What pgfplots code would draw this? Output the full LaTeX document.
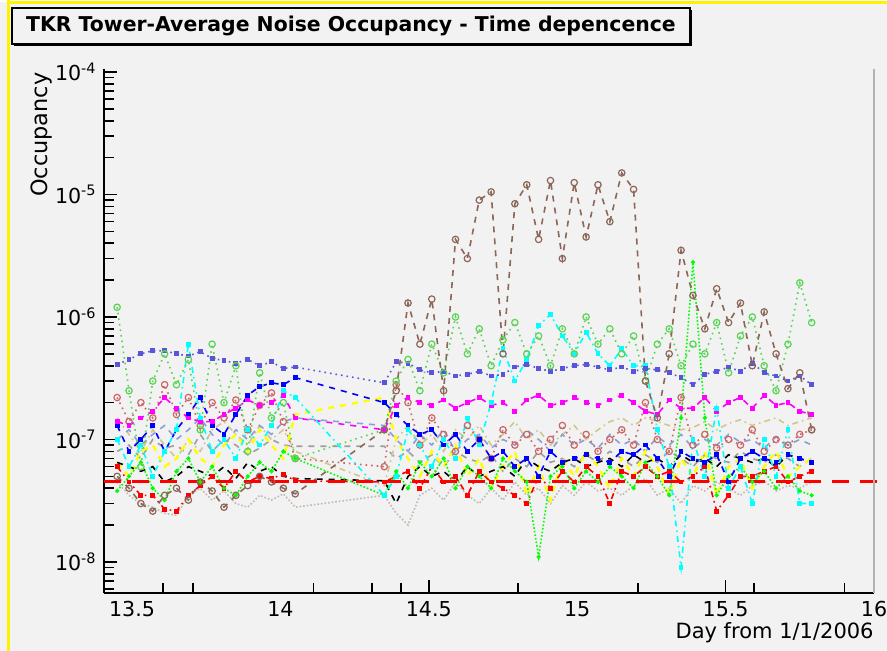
\documentclass[border=0pt]{standalone}
\usepackage{fontspec}
\setmainfont{DejaVu Sans}
\usepackage{pgfplots}
\pgfplotsset{compat=1.18}
\usepackage{pgfplotstable}
\definecolor{bg}{HTML}{F2F2F2}
\definecolor{cA}{rgb}{0,0,0}
\definecolor{cB}{rgb}{1,0,0}
\definecolor{cC}{rgb}{0,1,0}
\definecolor{cD}{rgb}{0,0,1}
\definecolor{cE}{rgb}{1,1,0}
\definecolor{cF}{rgb}{1,0,1}
\definecolor{cG}{rgb}{0,1,1}
\definecolor{cH}{rgb}{0.35,0.83,0.33}
\definecolor{cI}{rgb}{0.35,0.33,0.85}
\definecolor{cJ}{rgb}{0.55,0.40,0.34}
\definecolor{cK}{rgb}{0.82,0.78,0.55}
\definecolor{cL}{rgb}{0.55,0.62,0.85}
\definecolor{cM}{rgb}{0.80,0.40,0.40}
\definecolor{cN}{rgb}{0.76,0.73,0.69}
\definecolor{cO}{rgb}{0.62,0.62,0.62}
\pgfplotstableread{
x A B C D E F G H I J K L M N O
13.45 6.5e-8 6e-8 3.8e-8 1.3e-7 6.5e-8 1.4e-7 1.0e-7 1.2e-6 4.1e-7 5e-8 1.5e-7 1.0e-7 2.2e-7 4.5e-8 8e-8
13.49 6e-8 4.5e-8 5e-8 8e-8 5e-8 1.3e-7 6e-8 2.5e-7 4.5e-7 4e-8 1.1e-7 1.2e-7 1.4e-7 3.5e-8 9e-8
13.53 5.5e-8 3.5e-8 6.5e-8 1.0e-7 8e-8 1.5e-7 9e-8 6e-8 5e-7 3e-8 8e-8 9e-8 2.0e-7 3e-8 7e-8
13.57 6e-8 3.5e-8 4e-8 1.3e-7 9e-8 1.7e-7 5e-8 3e-7 5.3e-7 2.6e-8 1.2e-7 1.1e-7 1.5e-7 2.8e-8 1.0e-7
13.61 4.5e-8 2.7e-8 3.2e-8 8e-8 6e-8 2.2e-7 8e-8 5e-7 5.3e-7 3.5e-8 9e-8 1.3e-7 2.8e-7 2.5e-8 8.5e-8
13.65 5e-8 2.6e-8 5.5e-8 1.2e-7 7e-8 1.8e-7 1.2e-7 2.8e-7 5e-7 4e-8 7e-8 1.0e-7 1.6e-7 2.4e-8 9e-8
13.69 6e-8 3.5e-8 7e-8 1.6e-7 1e-7 1.5e-7 6e-7 4.5e-7 4.8e-7 3.2e-8 1.0e-7 1.2e-7 2.2e-7 3.5e-8 7.5e-8
13.73 5.5e-8 4.2e-8 4.5e-8 2.2e-7 7e-8 1.4e-7 1.5e-7 1.2e-7 5.2e-7 4.5e-8 8e-8 1.5e-7 1.3e-7 4e-8 1.1e-7
13.77 5e-8 5e-8 6e-8 1.3e-7 6e-8 1.4e-7 8e-8 6e-7 4.6e-7 3.8e-8 1.2e-7 1.1e-7 2.0e-7 3.2e-8 8e-8
13.81 6e-8 4e-8 4e-8 1.1e-7 9e-8 1.6e-7 1.0e-7 2e-7 4.4e-7 2.8e-8 1.4e-7 9e-8 1.5e-7 3.8e-8 1.0e-7
13.85 4.8e-8 5.5e-8 3.5e-8 1.6e-7 1.1e-7 1.8e-7 7e-8 4e-7 4.2e-7 3.5e-8 1.1e-7 1.2e-7 2.1e-7 3e-8 9e-8
13.89 6.5e-8 4.5e-8 5e-8 2.3e-7 8e-8 2.1e-7 1.2e-7 8e-8 4.5e-7 4.2e-8 9e-8 1.0e-7 1.2e-7 2.8e-8 7.5e-8
13.93 5.5e-8 5e-8 6.5e-8 2.7e-7 1.2e-7 1.9e-7 9e-8 3.5e-7 4.0e-7 5e-8 1.3e-7 1.3e-7 1.9e-7 3.5e-8 8.5e-8
13.97 6e-8 4.8e-8 5.5e-8 2.9e-7 9e-8 2.0e-7 1.3e-7 1.5e-7 4.3e-7 4.5e-8 1.0e-7 1.1e-7 2.4e-7 3.2e-8 1.0e-7
14.01 5e-8 5.2e-8 8e-8 2.8e-7 7e-8 2.3e-7 2.5e-7 2e-7 3.8e-7 4e-8 1.2e-7 1.4e-7 1.4e-7 3.6e-8 9e-8
14.05 4.8e-8 4.6e-8 7e-8 3.2e-7 1.6e-7 1.5e-7 2.2e-7 7e-8 3.9e-7 3.6e-8 8e-8 1.5e-7 7e-8 2.8e-8 8.8e-8
14.35 4.6e-8 4.5e-8 3.5e-8 2.0e-7 2.2e-7 1.2e-7 3.5e-8 1.2e-7 2.9e-7 1.2e-7 4.2e-8 1.3e-7 6e-8 3.5e-8 8.8e-8
14.39 3e-8 5e-8 5.5e-8 1.6e-7 1e-7 1.9e-7 5e-8 3e-7 4.3e-7 2.5e-7 1e-7 1e-7 2.8e-7 2.5e-8 7e-8
14.43 5e-8 5.5e-8 4e-8 1.3e-7 7e-8 2.2e-7 1.2e-7 4.5e-7 4.2e-7 1.3e-6 1.3e-7 8e-8 2.0e-7 2.0e-8 8e-8
14.47 6e-8 4e-8 6.5e-8 1.1e-7 5e-8 2.0e-7 9e-8 2.5e-7 3.7e-7 6e-7 9e-8 1.1e-7 9e-8 3.5e-8 6.5e-8
14.51 5e-8 6e-8 5e-8 1.2e-7 8e-8 1.9e-7 6e-8 6e-7 3.5e-7 1.4e-6 1.1e-7 9e-8 1.5e-7 4e-8 7.5e-8
14.55 5.5e-8 4.5e-8 7e-8 9e-8 6e-8 2.1e-7 1e-7 3.5e-7 3.6e-7 2.5e-7 8e-8 1.2e-7 1.1e-7 3.2e-8 6e-8
14.59 4.5e-8 5e-8 4e-8 1.1e-7 9e-8 1.8e-7 7e-8 1e-6 3.3e-7 4.3e-6 1.2e-7 8e-8 8e-8 4.5e-8 8e-8
14.63 6e-8 3.5e-8 6e-8 8e-8 5e-8 2.0e-7 1.5e-7 5e-7 3.4e-7 3.0e-6 1.0e-7 1.0e-7 1.3e-7 3.5e-8 7e-8
14.67 5e-8 5.5e-8 5e-8 1e-7 7e-8 2.2e-7 9e-8 8e-7 3.6e-7 9e-6 1.3e-7 1.1e-7 1.0e-7 3e-8 6.5e-8
14.71 5.5e-8 4.5e-8 4e-8 7e-8 4e-8 1.9e-7 2e-7 4e-7 3.3e-7 1.05e-5 9e-8 8.5e-8 7e-8 4e-8 7.5e-8
14.75 6e-8 4e-8 7e-8 8e-8 6e-8 2.0e-7 5.5e-7 6.5e-7 3.4e-7 5e-7 1.1e-7 1.0e-7 1.2e-7 3.2e-8 5.5e-8
14.79 5e-8 3.5e-8 5.5e-8 6e-8 8e-8 1.7e-7 3e-7 9e-7 3.9e-7 8.4e-6 1.4e-7 9e-8 9e-8 4.5e-8 7e-8
14.83 7e-8 3e-8 4.5e-8 7e-8 3.5e-8 2.1e-7 4.5e-7 5e-7 4.1e-7 1.2e-5 1.0e-7 1.2e-7 1.1e-7 3.5e-8 6e-8
14.87 6e-8 5e-8 1.1e-8 5e-8 6e-8 2.3e-7 8.5e-7 7e-7 3.8e-7 4.3e-6 1.2e-7 1.0e-7 8e-8 4e-8 8e-8
14.91 5.5e-8 4e-8 5e-8 8e-8 3.2e-8 1.9e-7 1.05e-6 4e-7 3.6e-7 1.3e-5 9e-8 8e-8 1.0e-7 3e-8 6.5e-8
14.95 6.5e-8 5.5e-8 6e-8 6.5e-8 7e-8 2.0e-7 7e-7 8e-7 3.8e-7 3e-6 1.1e-7 1.1e-7 1.3e-7 4.2e-8 7e-8
14.99 7e-8 4.5e-8 4e-8 7e-8 5e-8 2.2e-7 5e-7 5e-7 4.0e-7 1.25e-5 1.3e-7 9e-8 9e-8 3.5e-8 6e-8
15.03 6e-8 6e-8 5.5e-8 7.5e-8 8e-8 2.0e-7 7.5e-7 1e-6 4.1e-7 4.5e-6 1.0e-7 1.0e-7 1.1e-7 4.5e-8 7.5e-8
15.07 6.5e-8 5e-8 4.5e-8 7e-8 6e-8 1.9e-7 5e-7 6e-7 3.9e-7 1.2e-5 1.2e-7 8.5e-8 8e-8 3.8e-8 6.5e-8
15.11 7e-8 3e-8 6e-8 6.5e-8 4e-8 2.1e-7 4e-7 8e-7 3.7e-7 6e-6 1.4e-7 1.1e-7 1.0e-7 4e-8 8e-8
15.15 6e-8 5.5e-8 5e-8 8e-8 7e-8 2.3e-7 5.5e-7 5e-7 3.9e-7 1.5e-5 1.5e-7 9e-8 1.2e-7 3.5e-8 7e-8
15.19 7.5e-8 5e-8 4e-8 7.5e-8 5e-8 2.0e-7 4e-7 7e-7 3.6e-7 1.1e-5 1.3e-7 1.0e-7 9e-8 4.2e-8 6e-8
15.23 6.5e-8 6e-8 6.5e-8 9e-8 8e-8 1.7e-7 4e-7 3e-7 3.8e-7 3e-7 1.5e-7 8e-8 2.0e-7 4.8e-8 7.5e-8
15.27 7e-8 5e-8 5e-8 7e-8 6e-8 1.6e-7 1.2e-7 6e-7 3.7e-7 1.5e-7 1.4e-7 1.05e-7 1.0e-7 3.5e-8 6.5e-8
15.31 6e-8 5.5e-8 3.5e-8 5e-8 3.5e-8 2.1e-7 6e-8 8e-7 3.5e-7 5e-7 1.3e-7 9e-8 8e-8 4e-8 8e-8
15.35 7.5e-8 4.5e-8 1.5e-7 8e-8 7e-8 1.8e-7 9e-9 4e-7 3.2e-7 3.5e-6 1.2e-7 1.1e-7 2.2e-7 3e-8 7e-8
15.39 6.5e-8 5e-8 2.8e-6 7e-8 5e-8 1.8e-7 1e-7 6e-7 2.8e-7 1.5e-6 1.25e-7 8.5e-8 9e-8 4.2e-8 6e-8
15.43 7e-8 6e-8 1.5e-7 6.5e-8 8e-8 2.2e-7 5e-8 5e-7 3.4e-7 8e-7 1.4e-7 1.0e-7 1.1e-7 3.8e-8 7.5e-8
15.47 6e-8 2.6e-8 3.5e-8 7.5e-8 3.5e-8 1.7e-7 1.8e-7 9e-7 3.6e-7 1.7e-6 1.2e-7 9e-8 8.5e-8 4.5e-8 7e-8
15.51 7.5e-8 3.5e-8 5e-8 4.5e-8 6e-8 2.0e-7 4e-8 3.5e-7 3.9e-7 9e-7 1.35e-7 1.1e-7 1.0e-7 4e-8 6.5e-8
15.55 7e-8 5e-8 6e-8 7e-8 7e-8 2.2e-7 6e-8 7e-7 3.6e-7 1.3e-6 1.45e-7 9.5e-8 9e-8 3.5e-8 8e-8
15.59 6.5e-8 5e-8 4.5e-8 8e-8 4e-8 1.8e-7 3e-8 1e-6 4.2e-7 4e-7 1.3e-7 1.0e-7 1.2e-7 4.2e-8 7e-8
15.63 7e-8 5.5e-8 5.5e-8 7e-8 6e-8 2.3e-7 1e-7 4e-7 3.5e-7 1.1e-6 1.4e-7 8.5e-8 8e-8 4.6e-8 6.5e-8
15.67 6e-8 6e-8 4e-8 6.5e-8 8e-8 1.9e-7 5e-8 2.5e-7 3.3e-7 5e-7 1.5e-7 1.05e-7 1.0e-7 3.8e-8 7.5e-8
15.71 7.5e-8 4.5e-8 5e-8 7.5e-8 5e-8 2.0e-7 1.2e-7 6e-7 3.0e-7 2.6e-7 1.3e-7 9e-8 9e-8 4.2e-8 7e-8
15.75 7e-8 5e-8 3.8e-8 7e-8 6e-8 1.7e-7 3e-8 1.9e-6 3.3e-7 3.5e-7 1.4e-7 1.0e-7 1.1e-7 4e-8 6e-8
15.79 6.5e-8 5.5e-8 3.5e-8 6.5e-8 7e-8 1.6e-7 3e-8 9e-7 2.8e-7 1.2e-7 1.5e-7 9e-8 1.2e-7 4.5e-8 7e-8
}\data
\begin{document}
\begin{tikzpicture}
\path[fill=bg, use as bounding box] (0,0) rectangle (443.5pt,325.5pt);
\clip (0,0) rectangle (443.5pt,325.5pt);
\fill[white] (0,324.5pt) rectangle (443.5pt,325.5pt);
\draw[yellow, line width=1.4pt] (4.3pt,0) -- (4.3pt,325.5pt);
\draw[yellow, line width=1.4pt] (4.3pt,324.3pt) -- (443.5pt,324.3pt);
\begin{axis}[
  at={(52pt,29pt)}, anchor=south west,
  width=385pt, height=262pt, scale only axis,
  xmin=13.4057, xmax=16,
  ymode=log, ymin=5.58e-9, ymax=1.058e-4,
  clip=false,
  axis lines*=left,
  axis line style={-, line width=1pt, black},
  tick align=inside,
  tick style={black, line width=0.8pt},
  major tick length=6.5pt, minor tick length=5pt,
  xtick={14.5,15.5}, xticklabels={14.5,15.5},
  extra x ticks={13.5,14,15,16}, extra x tick labels={13.5,14,15,16},
  extra x tick style={major tick length=0pt},
  minor xtick={13.604,13.705,14.112,14.308,14.406,14.80,15.204,15.596,15.90},
  ytick={1e-8,1e-7,1e-6,1e-5,1e-4},
  yticklabels={10\textsuperscript{-8},10\textsuperscript{-7},10\textsuperscript{-6},10\textsuperscript{-5},10\textsuperscript{-4}},
  minor ytick={6e-9,7e-9,8e-9,9e-9,2e-8,3e-8,4e-8,5e-8,6e-8,7e-8,8e-8,9e-8,2e-7,3e-7,4e-7,5e-7,6e-7,7e-7,8e-7,9e-7,2e-6,3e-6,4e-6,5e-6,6e-6,7e-6,8e-6,9e-6,2e-5,3e-5,4e-5,5e-5,6e-5,7e-5,8e-5,9e-5},
  ticklabel style={font=\fontsize{10.3}{12}\selectfont},
  xticklabel style={inner sep=0pt, anchor=north, yshift=-4pt},
  yticklabel style={inner sep=0pt, anchor=east, xshift=-3.5pt},
  xlabel={Day from 1/1/2006},
  xlabel style={at={(axis description cs:1,-0.076)}, anchor=east, inner sep=0pt, font=\fontsize{10.5}{12}\selectfont},
  ylabel={Occupancy},
  ylabel style={at={(axis description cs:-0.0805,0.994)}, anchor=east, inner sep=0pt, font=\fontsize{11.2}{13}\selectfont},
  every axis plot/.append style={line width=0.8pt},
]
\addplot[cO, dashed] table[x=x,y=O]{\data};
\addplot[cN, densely dotted] table[x=x,y=N]{\data};
\addplot[cK, dash dot] table[x=x,y=K]{\data};
\addplot[cL, dashed] table[x=x,y=L]{\data};
\addplot[cM, dotted, mark=o, mark size=1.6pt, mark options={solid, line width=0.6pt}] table[x=x,y=M]{\data};
\addplot[cE, dashed, line width=1.2pt] table[x=x,y=E]{\data};
\addplot[cA, dashed] table[x=x,y=A]{\data};
\addplot[cB, dash dot, mark=square*, mark size=0.8pt, mark options={solid}] table[x=x,y=B]{\data};
\addplot[cC, densely dotted, mark=*, mark size=0.6pt, mark options={solid}] table[x=x,y=C]{\data};
\addplot[cD, dashed, mark=square*, mark size=0.8pt, mark options={solid}] table[x=x,y=D]{\data};
\addplot[cF, dashed, mark=square*, mark size=0.8pt, mark options={solid}] table[x=x,y=F]{\data};
\addplot[cG, dash dot, mark=square*, mark size=0.8pt, mark options={solid}] table[x=x,y=G]{\data};
\addplot[cI, dotted, mark=square*, mark size=0.8pt, mark options={solid}] table[x=x,y=I]{\data};
\addplot[cH, dotted, mark=o, mark size=1.6pt, mark options={solid, line width=0.6pt}] table[x=x,y=H]{\data};
\addplot[cJ, dashed, mark=o, mark size=1.6pt, mark options={solid, line width=0.6pt}] table[x=x,y=J]{\data};
\addplot[red, line width=1.5pt, dash pattern=on 8.5pt off 5.5pt] coordinates {(13.4057,4.5e-8) (16.05,4.5e-8)};
\draw[gray!60, line width=1pt] (rel axis cs:1,0) -- (rel axis cs:1,1);
\end{axis}
\fill[black] (7pt,302.5pt) rectangle (346pt,320.5pt);
\draw[black, fill=bg, line width=0.6pt] (6pt,303.5pt) rectangle (345pt,321.5pt);
\node[font=\bfseries\fontsize{10.2}{12}\selectfont, inner sep=0pt] at (175.5pt,312.5pt) {TKR Tower-Average Noise Occupancy - Time depencence};
\end{tikzpicture}
\end{document}
